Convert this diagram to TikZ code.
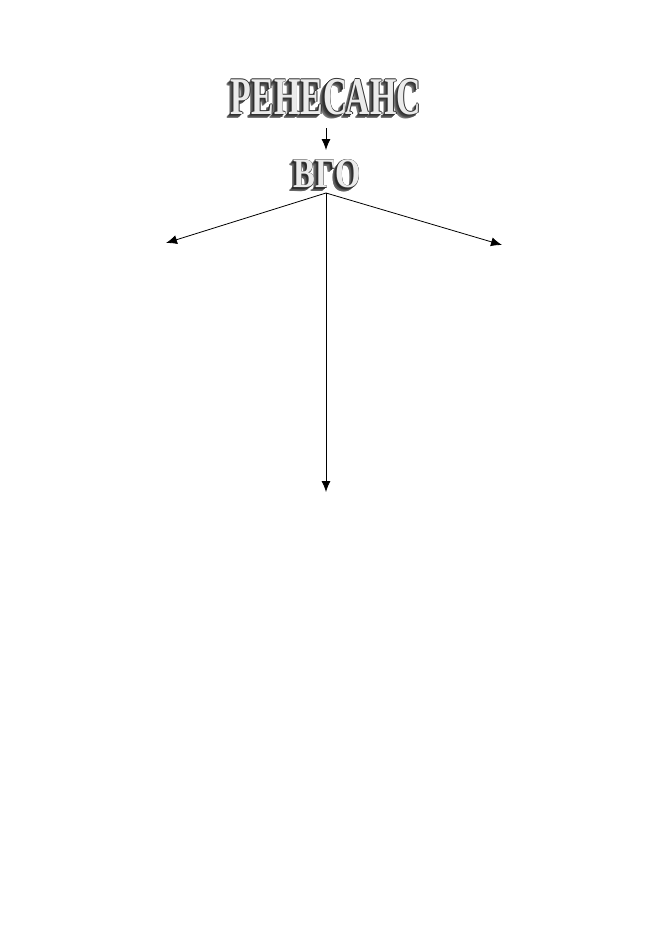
\documentclass[tikz,border=0pt]{standalone}
\usepackage{fontspec}
\newfontfamily\artfont{Liberation Serif}
\usetikzlibrary{arrows.meta, calc, positioning}
\tikzset{
    artText/.style={inner sep=0pt, font=\artfont\bfseries\fontsize{#1}{#1}\selectfont},
    artEdge/.style={-{Latex[length=11pt, width=9pt]}, line width=0.8pt},
}
% 3D lettering: extrusion layers, outline, front face
\newcommand{\drawWordArt}[5]{% name, position, size, xscale, text
    \foreach \d in {6,...,1} {
        \pgfmathsetmacro\shade{95-7*\d}
        \node[artText=#3, text=black!\shade] at ($(#2)+(-0.7*\d, 0.7*\d)$) {\scalebox{#4}[1]{#5}};
    }
    \foreach \dx/\dy in {-0.6/0, 0.6/0, 0/-0.6, 0/0.6} {
        \node[artText=#3, text=black!80] at ($(#2)+(\dx, \dy)$) {\scalebox{#4}[1]{#5}};
    }
    \node[artText=#3, text=black!8] (#1) at (#2) {\scalebox{#4}[1]{#5}};
}

\begin{document}
\begin{tikzpicture}[x=1pt, y=-1pt]
    \useasboundingbox (0,0) rectangle (655,926);

    % headings
    \coordinate (renPos) at (326,97);
    \coordinate (vgoPos) at (327,174);
    \drawWordArt{ren}{renPos}{53}{0.64}{РЕНЕСАНС}
    \drawWordArt{vgo}{vgoPos}{42}{0.78}{ВГО}

    % arrow ends
    \coordinate (split) at (326,193);
    \coordinate (leftEnd) at (166,243);
    \coordinate (rightEnd) at (502,245);
    \coordinate (downEnd) at (326,492);
    \coordinate (renBottom) at (326,128);
    \coordinate (vgoTop) at (326,150);

    \draw[artEdge] (renBottom) -- (vgoTop);
    \draw[artEdge] (split) -- (leftEnd);
    \draw[artEdge] (split) -- (rightEnd);
    \draw[artEdge] (split) -- (downEnd);

\end{tikzpicture}
\end{document}
